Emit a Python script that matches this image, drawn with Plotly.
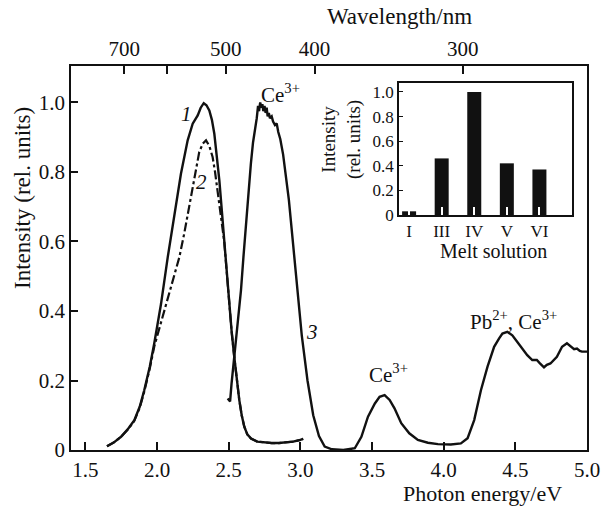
import plotly.graph_objects as go

# ---- data ----
c1_x = [1.651, 1.70, 1.749, 1.80, 1.842, 1.88, 1.911, 1.95, 1.981, 2.028, 2.075, 2.121, 2.167, 2.214, 2.249,
        2.284, 2.305, 2.326, 2.345, 2.365, 2.383, 2.40, 2.418, 2.435, 2.452, 2.469, 2.487, 2.504, 2.521, 2.539,
        2.556, 2.574, 2.591, 2.609, 2.63, 2.656, 2.70, 2.75, 2.80, 2.85, 2.90, 2.95, 2.99, 3.02]
c1_y = [0.011, 0.022, 0.038, 0.062, 0.086, 0.125, 0.172, 0.24, 0.307, 0.42, 0.555, 0.68, 0.795, 0.891, 0.939,
        0.963, 0.985, 0.998, 0.992, 0.977, 0.95, 0.91, 0.85, 0.776, 0.69, 0.603, 0.51, 0.42, 0.34, 0.268,
        0.2, 0.144, 0.1, 0.067, 0.045, 0.033, 0.024, 0.021, 0.02, 0.02, 0.021, 0.024, 0.028, 0.032]

c2_x = [1.651, 1.70, 1.749, 1.80, 1.842, 1.88, 1.911, 1.95, 1.981, 2.02, 2.063, 2.109, 2.156, 2.19, 2.225,
        2.26, 2.295, 2.32, 2.342, 2.365, 2.388, 2.405, 2.423, 2.44, 2.455, 2.469, 2.487, 2.504, 2.521, 2.539,
        2.556, 2.574, 2.591, 2.609, 2.63, 2.656, 2.70, 2.75, 2.80, 2.85, 2.90, 2.95, 2.99, 3.02]
c2_y = [0.011, 0.022, 0.038, 0.06, 0.084, 0.122, 0.168, 0.235, 0.298, 0.355, 0.412, 0.479, 0.555, 0.623, 0.70,
        0.785, 0.858, 0.882, 0.891, 0.875, 0.843, 0.80, 0.747, 0.69, 0.64, 0.60, 0.51, 0.42, 0.34, 0.268,
        0.2, 0.144, 0.1, 0.067, 0.045, 0.033, 0.024, 0.021, 0.02, 0.02, 0.021, 0.024, 0.028, 0.032]

c3_x = [2.493, 2.51, 2.52, 2.535, 2.551, 2.568, 2.586, 2.603, 2.62, 2.637, 2.655, 2.67, 2.684, 2.696, 2.705,
        2.712, 2.72, 2.728, 2.735, 2.742, 2.75, 2.758, 2.765, 2.772, 2.78, 2.788, 2.80, 2.81, 2.823, 2.835,
        2.846, 2.86, 2.88, 2.90, 2.92, 2.95, 2.98, 3.01, 3.05, 3.09, 3.13, 3.17, 3.22, 3.30, 3.38, 3.426,
        3.472, 3.52, 3.553, 3.588, 3.623, 3.657, 3.704, 3.76, 3.82, 3.89, 3.96, 4.05, 4.12, 4.167, 4.213,
        4.26, 4.306, 4.352, 4.387, 4.41, 4.444, 4.479, 4.514, 4.55, 4.583, 4.618, 4.65, 4.67, 4.70, 4.72,
        4.745, 4.79, 4.826, 4.86, 4.88, 4.896, 4.91, 4.93, 4.95, 4.965, 5.0]
c3_y = [0.148, 0.14, 0.19, 0.25, 0.316, 0.385, 0.46, 0.555, 0.651, 0.74, 0.824, 0.885, 0.92, 0.955, 0.99,
        0.975, 1.0, 0.985, 0.995, 0.975, 0.99, 0.97, 0.985, 0.96, 0.97, 0.955, 0.96, 0.945, 0.935, 0.94,
        0.915, 0.895, 0.85, 0.79, 0.72, 0.59, 0.46, 0.33, 0.20, 0.10, 0.04, 0.01, 0.002, 0.0, 0.005, 0.038,
        0.096, 0.134, 0.153, 0.158, 0.144, 0.12, 0.077, 0.048, 0.029, 0.021, 0.017, 0.016, 0.019, 0.034, 0.086,
        0.172, 0.24, 0.297, 0.321, 0.335, 0.34, 0.33, 0.311, 0.292, 0.273, 0.259, 0.259, 0.25, 0.238, 0.245,
        0.249, 0.268, 0.297, 0.307, 0.30, 0.297, 0.29, 0.292, 0.285, 0.283, 0.283]

energy_ticks = [1.5, 2.0, 2.5, 3.0, 3.5, 4.0, 4.5, 5.0]
intensity_ticks = [0, 0.2, 0.4, 0.6, 0.8, 1.0]
wavelength_ticks = [700, 600, 500, 400, 300]
wavelength_labels = ["700", " ", "500", "400", "300"]

melt_solutions = ["I", "III", "IV", "V", "VI"]
melt_intensity = [0.03, 0.46, 1.0, 0.42, 0.37]
inset_ticks = [0, 0.2, 0.4, 0.6, 0.8, 1.0]

HC = 1239.84  # eV*nm

FONT = "Liberation Serif"
BLACK = "#111111"

W, H = 601, 506
L, T = 71, 66
PW, PH = 516, 384


def fnt(size):
    return dict(family=FONT, size=size, color=BLACK)


def fmt(v):
    return "0" if v == 0 else f"{v:.1f}"


def px(xpix):  # window pixel -> paper x
    return (xpix - L) / PW


def py(ypix):  # window pixel -> paper y
    return (T + PH - ypix) / PH


fig = go.Figure()
fig.add_trace(go.Scatter(x=c1_x, y=c1_y, mode="lines", line=dict(color=BLACK, width=2.4), xaxis="x", yaxis="y"))
fig.add_trace(go.Scatter(x=c2_x, y=c2_y, mode="lines", line=dict(color=BLACK, width=2.2, dash="dashdot"),
                         xaxis="x", yaxis="y"))
fig.add_trace(go.Scatter(x=c3_x, y=c3_y, mode="lines", line=dict(color=BLACK, width=2.4), xaxis="x", yaxis="y"))
# invisible trace to activate top wavelength axis
fig.add_trace(go.Scatter(x=[c1_x[0]], y=[c1_y[0]], mode="markers", marker=dict(opacity=0),
                         xaxis="x2", yaxis="y", hoverinfo="skip"))

fig.add_trace(go.Bar(x=list(range(len(melt_solutions))), y=melt_intensity, width=0.43,
                     marker=dict(color=BLACK, line=dict(width=0)), xaxis="x3", yaxis="y3"))

axis_common = dict(showgrid=False, zeroline=False, showline=True, linecolor=BLACK, linewidth=1.5,
                   ticks="inside", tickcolor=BLACK, tickwidth=1.5, automargin=False)

fig.update_layout(
    width=W, height=H,
    margin=dict(l=L, r=W - L - PW, t=T, b=H - T - PH, autoexpand=False),
    paper_bgcolor="white", plot_bgcolor="white",
    showlegend=False,
    font=fnt(21),
    xaxis=dict(range=[1.40, 5.0], tickvals=energy_ticks, ticktext=[f"{v:.1f}" for v in energy_ticks],
               ticklen=8, mirror=True, tickfont=fnt(21), **axis_common),
    xaxis2=dict(range=[1.40, 5.0], overlaying="x", side="top", anchor="y",
                tickvals=[HC / w for w in wavelength_ticks], ticktext=wavelength_labels,
                ticklen=8, tickfont=fnt(21), showgrid=False, zeroline=False, showline=False,
                ticks="inside", tickcolor=BLACK, tickwidth=1.5, automargin=False, ticklabelstandoff=5),
    yaxis=dict(range=[0, 1.105], tickvals=intensity_ticks, ticktext=[fmt(v) for v in intensity_ticks],
               ticklen=7, mirror=True, tickfont=fnt(21), **axis_common),
    xaxis3=dict(domain=[px(399), px(572)], anchor="y3", range=[-0.31, 5.0],
                tickvals=list(range(len(melt_solutions))), ticktext=melt_solutions,
                showgrid=False, zeroline=False, showline=True, linecolor=BLACK, linewidth=1.5, mirror=True,
                ticks="inside", tickcolor="white", tickwidth=1.5, ticklen=8, tickfont=fnt(17),
                automargin=False),
    yaxis3=dict(domain=[py(215), py(83)], anchor="x3", range=[0, 1.073],
                tickvals=inset_ticks, ticktext=[fmt(v) for v in inset_ticks],
                showgrid=False, zeroline=False, showline=True, linecolor=BLACK, linewidth=1.5, mirror=True,
                ticks="inside", tickcolor=BLACK, tickwidth=1.2, ticklen=4, tickfont=fnt(17),
                automargin=False),
)

ann = []
# axis titles
ann.append(dict(text="Wavelength/nm", xref="paper", yref="paper", x=px(399), y=py(16),
                xanchor="center", yanchor="middle", showarrow=False, font=fnt(23)))
ann.append(dict(text="Photon energy/eV", xref="paper", yref="paper", x=px(482), y=py(493),
                xanchor="center", yanchor="middle", showarrow=False, font=fnt(22)))
ann.append(dict(text="Intensity (rel. units)", xref="paper", yref="paper", x=px(22), y=py(198),
                xanchor="center", yanchor="middle", textangle=-90, showarrow=False, font=fnt(23)))
# inset titles
ann.append(dict(text="Intensity<br>(rel. units)", xref="paper", yref="paper", x=px(341), y=py(140),
                xanchor="center", yanchor="middle", textangle=-90, showarrow=False, font=fnt(19)))
ann.append(dict(text="Melt solution", xref="paper", yref="paper", x=px(493), y=py(251),
                xanchor="center", yanchor="middle", showarrow=False, font=fnt(20)))
# curve labels
for t, x, y in [("1", 2.208, 0.967), ("2", 2.31, 0.772), ("3", 3.08, 0.34)]:
    ann.append(dict(text=f"<i>{t}</i>", xref="x", yref="y", x=x, y=y, xanchor="center", yanchor="middle",
                    showarrow=False, font=fnt(21)))
for t, x, y in [("Ce<sup>3+</sup>", 2.715, 1.027), ("Ce<sup>3+</sup>", 3.463, 0.221),
                ("Pb<sup>2+</sup>, Ce<sup>3+</sup>", 4.172, 0.374)]:
    ann.append(dict(text=t, xref="x", yref="y", x=x, y=y, xanchor="left", yanchor="middle",
                    showarrow=False, font=fnt(21)))

fig.update_layout(annotations=ann)

# remove the page's default body margin so the figure sits at the window's top-left corner
fig.write_html("out.html", config={"displayModeBar": False},
               post_script="document.body.style.margin='0';document.body.style.overflow='hidden';")
